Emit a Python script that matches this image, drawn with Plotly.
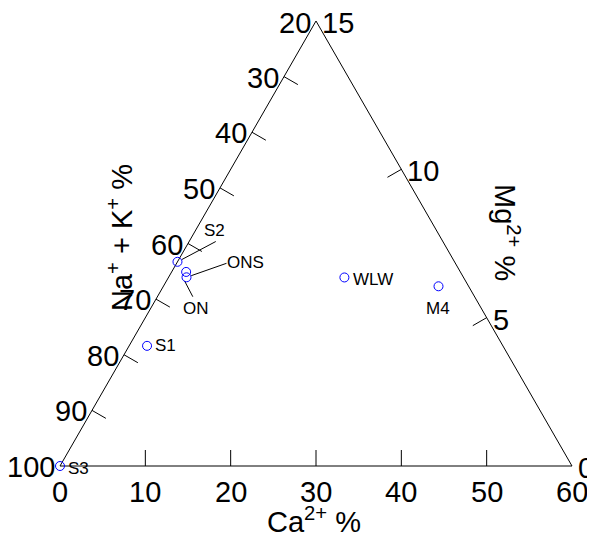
import plotly.graph_objects as go
import math

# ---------------- data ----------------
samples = ["S3", "S1", "S2", "ONS", "ON", "WLW", "M4"]
ca_pct = [0.0, 2.1, 0.0, 1.7, 2.1, 20.6, 32.2]
mg_pct = [0.0, 4.05, 6.9, 6.55, 6.35, 6.35, 6.05]
nak_pct = [100.0, 75.6, 63.4, 62.9, 63.2, 38.6, 24.7]

ca_ticks = [0, 10, 20, 30, 40, 50, 60]
mg_ticks = [0, 5, 10, 15]
nak_ticks = [100, 90, 80, 70, 60, 50, 40, 30, 20]

CA_MIN, CA_MAX = 0, 60
MG_MIN, MG_MAX = 0, 15
NAK_MIN, NAK_MAX = 20, 100

# ---------------- geometry (layout) ----------------
PAGE_OFF = 8             # default body margin of the html page
W, HPX = 595 - PAGE_OFF, 543 - PAGE_OFF
SCALE = 512.0            # px per unit of triangle side
OX, OY = 60.0, 466.0     # screen pixel position of bottom-left vertex
H = 445.0 / 512.0        # triangle height in side units
TICK = 16 / SCALE
FONT = "Liberation Sans, Arial, sans-serif"


def to_xy(ca, mg, nak):
    c = (ca - CA_MIN) / (CA_MAX - CA_MIN)
    m = (mg - MG_MIN) / (MG_MAX - MG_MIN)
    n = (nak - NAK_MIN) / (NAK_MAX - NAK_MIN)
    s = c + m + n
    c, m = c / s, m / s
    return c + 0.5 * m, H * m


def px2d(px, py):
    """screen pixel -> data units"""
    return (px - OX) / SCALE, (OY - py) / SCALE


fig = go.Figure()

# triangle frame
BL, BR, TOP = (0.0, 0.0), (1.0, 0.0), (0.5, H)
fig.add_trace(go.Scatter(x=[BL[0], BR[0], TOP[0], BL[0]], y=[BL[1], BR[1], TOP[1], BL[1]],
                         mode="lines", line=dict(color="black", width=1),
                         hoverinfo="skip", showlegend=False))

edge_len = math.hypot(0.5, H)
tx, ty = [], []
ann = []

# bottom axis (Ca)
for v in ca_ticks:
    x0 = (v - CA_MIN) / (CA_MAX - CA_MIN)
    y0 = 0.0
    if CA_MIN < v < CA_MAX:
        tx += [x0, x0, None]
        ty += [y0, y0 + TICK, None]
    ann.append(dict(x=x0, y=y0, text=str(v), xanchor="center", yanchor="middle",
                    yshift=-26, font=dict(size=29)))

# left axis (Na+K)
nx, ny = H / edge_len, -0.5 / edge_len
for v in nak_ticks:
    f = (NAK_MAX - v) / (NAK_MAX - NAK_MIN)
    x0, y0 = 0.5 * f, H * f
    if NAK_MIN < v < NAK_MAX:
        tx += [x0, x0 + nx * TICK, None]
        ty += [y0, y0 + ny * TICK, None]
    ann.append(dict(x=x0, y=y0, text=str(v), xanchor="right", yanchor="middle",
                    xshift=-3, yshift=-1 if v != NAK_MIN else -2, font=dict(size=29)))

# right axis (Mg)
rx, ry = -H / edge_len, -0.5 / edge_len
for v in mg_ticks:
    f = (v - MG_MIN) / (MG_MAX - MG_MIN)
    x0, y0 = 1 - 0.5 * f, H * f
    if MG_MIN < v < MG_MAX:
        tx += [x0, x0 + rx * TICK, None]
        ty += [y0, y0 + ry * TICK, None]
    ann.append(dict(x=x0, y=y0, text=str(v), xanchor="left", yanchor="middle",
                    xshift=4, yshift=-2, font=dict(size=29)))

fig.add_trace(go.Scatter(x=tx, y=ty, mode="lines", line=dict(color="black", width=1),
                         hoverinfo="skip", showlegend=False))

# sample points
px_, py_ = zip(*[to_xy(a, b, c) for a, b, c in zip(ca_pct, mg_pct, nak_pct)])
pos = dict(zip(samples, zip(px_, py_)))

# leader lines (pixel offsets from a sample point)
leaders = {"S2": ("S2", (4.4, -2.3), (38.3, -20.3)),
           "ONS": ("ON", (4.7, -1.6), (40.0, -14.0)),
           "ON": ("ON", (-2.0, 3.5), (6.3, 19.4))}
lx, ly = [], []
for name, (ref, s, e) in leaders.items():
    x0, y0 = pos[ref]
    lx += [x0 + s[0] / SCALE, x0 + e[0] / SCALE, None]
    ly += [y0 - s[1] / SCALE, y0 - e[1] / SCALE, None]
fig.add_trace(go.Scatter(x=lx, y=ly, mode="lines", line=dict(color="black", width=1),
                         hoverinfo="skip", showlegend=False))

fig.add_trace(go.Scatter(x=list(px_), y=list(py_), mode="markers",
                         marker=dict(symbol="circle-open", size=9, color="blue",
                                     line=dict(width=1, color="blue")),
                         hoverinfo="x+y", showlegend=False))

# sample labels (anchor, xshift, yshift in px)
lab = {"S3": ("left", 6, -2), "S1": ("left", 6, 0), "WLW": ("left", 7, -2),
       "M4": ("center", -1, -22), "S2": ("left", 25, 31), "ONS": ("left", 39, 9),
       "ON": ("center", 9, -31)}
for name, (xa, xs, ys) in lab.items():
    x0, y0 = pos[name]
    ann.append(dict(x=x0, y=y0, text=name, xanchor=xa, yanchor="middle",
                    xshift=xs, yshift=ys, font=dict(size=17)))

# axis titles
x, y = px2d(314, 520)
ann.append(dict(x=x, y=y, text="Ca<sup>2+</sup> %", xanchor="center", yanchor="middle",
                font=dict(size=29)))
x, y = px2d(120, 238)
ann.append(dict(x=x, y=y, text="Na<sup>+</sup> + K<sup>+</sup> %", textangle=-90,
                xanchor="center", yanchor="middle", font=dict(size=29)))
x, y = px2d(507, 232)
ann.append(dict(x=x, y=y, text="Mg<sup>2+</sup> %", textangle=90,
                xanchor="center", yanchor="middle", font=dict(size=29)))

for a in ann:
    a.update(xref="x", yref="y", showarrow=False)
    a["font"] = dict(family=FONT, color="black", size=a["font"]["size"])

# axis ranges so that the figure area maps onto the screen (offset by page margin)
x0r, y0r = px2d(PAGE_OFF, 543)
x1r, y1r = px2d(595, PAGE_OFF)
fig.update_layout(
    width=W, height=HPX, margin=dict(l=0, r=0, t=0, b=0),
    paper_bgcolor="white", plot_bgcolor="white",
    xaxis=dict(range=[x0r, x1r], visible=False, fixedrange=True),
    yaxis=dict(range=[y0r, y1r], visible=False, fixedrange=True),
    annotations=ann, font=dict(family=FONT), showlegend=False,
)

fig.write_html("out.html")
